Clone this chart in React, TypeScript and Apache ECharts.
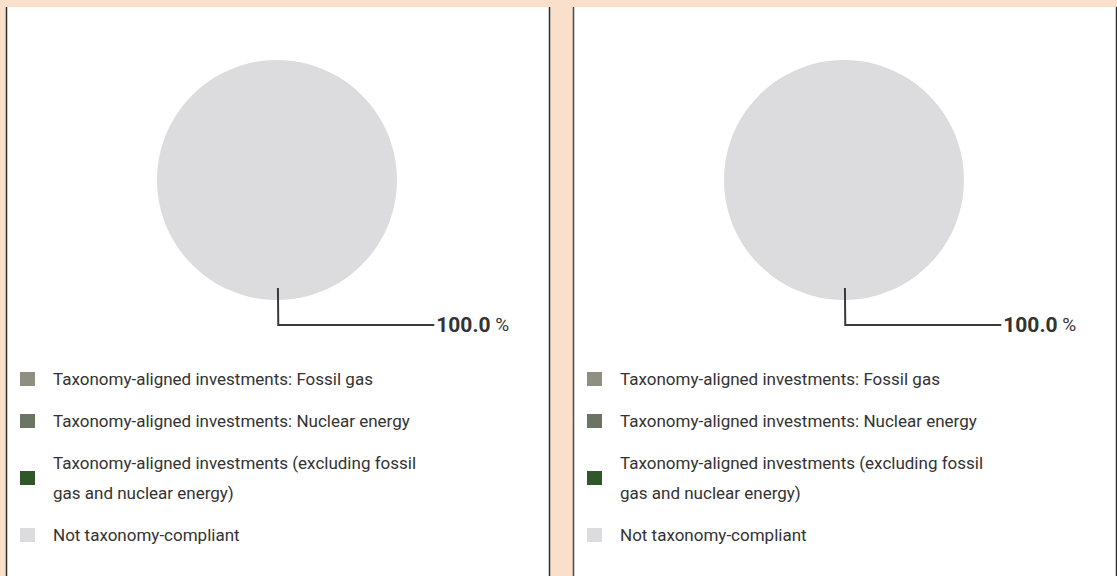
import React, { useEffect, useRef } from "react";
import * as echarts from "echarts";

const categories = [
  "Taxonomy-aligned investments: Fossil gas",
  "Taxonomy-aligned investments: Nuclear energy",
  "Taxonomy-aligned investments (excluding fossil gas and nuclear energy)",
  "Not taxonomy-compliant",
];
const legendLabels = [
  "Taxonomy-aligned investments: Fossil gas",
  "Taxonomy-aligned investments: Nuclear energy",
  "Taxonomy-aligned investments (excluding fossil\ngas and nuclear energy)",
  "Not taxonomy-compliant",
];
const colors = ["#8e8f80", "#6c7464", "#2f5729", "#dcdcde"];
const leftValues = [0, 0, 0, 100];
const rightValues = [0, 0, 0, 100];

const FONT = "Roboto, 'Noto Sans', sans-serif";

function pieData(values: number[], withLabel: boolean, transparent: boolean) {
  return values.map((v, i) => ({
    name: categories[i],
    value: v,
    itemStyle: { color: transparent ? "rgba(0,0,0,0)" : colors[i] },
    label: { show: withLabel && v > 0 },
    labelLine: { show: withLabel && v > 0 },
  }));
}

function visiblePie(center: [number, number], values: number[]) {
  return {
    type: "pie",
    z: 1,
    center,
    radius: 120,
    startAngle: 90,
    clockwise: true,
    emphasis: { disabled: true },
    label: { show: false },
    labelLine: { show: false },
    data: pieData(values, false, false),
  };
}

function labelPie(center: [number, number], values: number[]) {
  return {
    type: "pie",
    z: 3,
    center,
    radius: 108,
    startAngle: 90.5,
    clockwise: true,
    silent: true,
    avoidLabelOverlap: false,
    emphasis: { disabled: true },
    label: {
      position: "outside",
      distanceToLabelLine: 2,
      formatter: (p: any) => `{b|${Number(p.value).toFixed(1)}} %`,
      fontFamily: FONT,
      fontSize: 19,
      color: "#333333",
      rich: {
        b: { fontFamily: FONT, fontSize: 21, fontWeight: "bold", color: "#333333" },
      },
    },
    labelLine: {
      show: true,
      length: 37,
      length2: 156,
      smooth: false,
      lineStyle: { color: "#3a3a3a", width: 2 },
    },
    data: pieData(values, true, true),
  };
}

function legend(left: number) {
  return {
    orient: "vertical",
    left,
    top: 364,
    padding: 0,
    icon: "rect",
    itemWidth: 15,
    itemHeight: 14,
    itemGap: 12,
    selectedMode: false,
    data: categories,
    formatter: (name: string) => legendLabels[categories.indexOf(name)],
    textStyle: {
      fontFamily: FONT,
      fontSize: 17,
      lineHeight: 30,
      color: "#333333",
      padding: [0, 0, 0, 13],
    },
  };
}

export default function App() {
  const ref = useRef<HTMLDivElement>(null);
  useEffect(() => {
    if (!ref.current) return;
    const chart = echarts.init(ref.current, undefined, { renderer: "svg" });
    chart.setOption({
      animation: false,
      backgroundColor: "#fae0cb",
      graphic: [
        { type: "rect", z: -10, shape: { x: 7, y: 7, width: 542, height: 580 }, style: { fill: "#ffffff" } },
        { type: "rect", z: -10, shape: { x: 574, y: 7, width: 542, height: 580 }, style: { fill: "#ffffff" } },
        { type: "line", z: -5, shape: { x1: 6.5, y1: 7, x2: 6.5, y2: 580 }, style: { stroke: "#2e2e2e", lineWidth: 1.5 } },
        { type: "line", z: -5, shape: { x1: 549.5, y1: 7, x2: 549.5, y2: 580 }, style: { stroke: "#2e2e2e", lineWidth: 1.5 } },
        { type: "line", z: -5, shape: { x1: 573.5, y1: 7, x2: 573.5, y2: 580 }, style: { stroke: "#4a4a4a", lineWidth: 1.5 } },
        { type: "line", z: -5, shape: { x1: 1116.5, y1: 7, x2: 1116.5, y2: 580 }, style: { stroke: "#2e2e2e", lineWidth: 1.5 } },
      ],
      legend: [legend(20), legend(587)],
      series: [
        visiblePie([277, 180], leftValues),
        visiblePie([844, 180], rightValues),
        labelPie([277, 180], leftValues),
        labelPie([844, 180], rightValues),
      ],
    });
    return () => chart.dispose();
  }, []);
  return (
    <div
      ref={ref}
      style={{ position: "absolute", left: 0, top: 0, width: 1117, height: 576 }}
    />
  );
}
